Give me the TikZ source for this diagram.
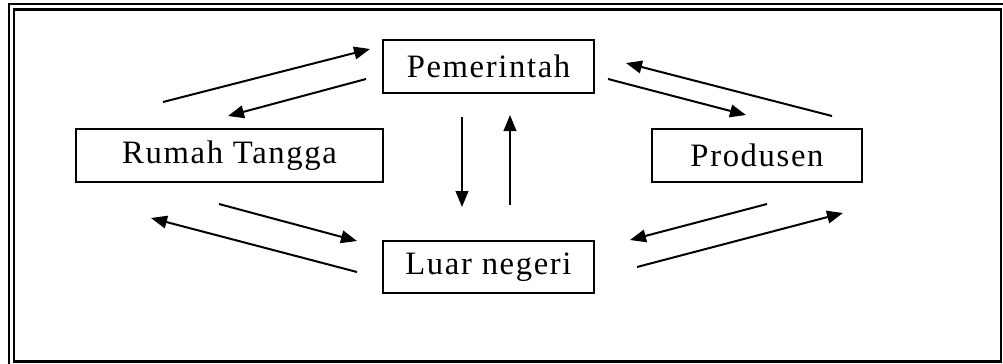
\documentclass[tikz,border=0pt]{standalone}
\usepackage{fontspec}
\setmainfont{Liberation Serif}[LetterSpace=5]
\usetikzlibrary{arrows.meta}
\tikzset{
  box/.style={draw, line width=1.5pt, minimum height=39.5pt, inner sep=0pt, font=\fontsize{24.5}{28}\selectfont},
  flow/.style={line width=1.5pt, -{Triangle[length=12pt,width=9.5pt]}},
  frame/.style={line width=1.6pt}
}
\begin{document}
\begin{tikzpicture}[x=0.75pt,y=-0.75pt]
\useasboundingbox (0,0) rectangle (1003,364);
\clip (0,0) rectangle (1003,364);
% double frame
\draw[frame] (9,4) rectangle (1012,372);
\draw[frame] (14,9.5) rectangle (1001,361.5);
% boxes
\node[box, minimum width=158pt] (pem) at (488.5,66.5) {Pemerintah};
\node[box, minimum width=230pt] (rt) at (229.5,155.5) {Rumah Tangga};
\node[box, minimum width=157.5pt] (pro) at (757,155.5) {Produsen};
\node[box, minimum width=158pt] (ln) at (488.5,267) {Luar negeri};
% arrow end points
\coordinate (a1s) at (163,102); \coordinate (a1e) at (370,49);
\coordinate (a2s) at (366,79);  \coordinate (a2e) at (228,116);
\coordinate (a3s) at (608,79);  \coordinate (a3e) at (746,115);
\coordinate (a4s) at (832,116); \coordinate (a4e) at (626,63);
\coordinate (a5s) at (219,204); \coordinate (a5e) at (357,241);
\coordinate (a6s) at (357,272); \coordinate (a6e) at (151,218);
\coordinate (a7s) at (767,204); \coordinate (a7e) at (630,240);
\coordinate (a8s) at (637,267); \coordinate (a8e) at (843,213);
\coordinate (v1s) at (462,117); \coordinate (v1e) at (462,207);
\coordinate (v2s) at (510,205); \coordinate (v2e) at (510,115);
% arrows
\draw[flow] (a1s) -- (a1e);
\draw[flow] (a2s) -- (a2e);
\draw[flow] (a3s) -- (a3e);
\draw[flow] (a4s) -- (a4e);
\draw[flow] (a5s) -- (a5e);
\draw[flow] (a6s) -- (a6e);
\draw[flow] (a7s) -- (a7e);
\draw[flow] (a8s) -- (a8e);
\draw[flow] (v1s) -- (v1e);
\draw[flow] (v2s) -- (v2e);
\end{tikzpicture}
\end{document}
